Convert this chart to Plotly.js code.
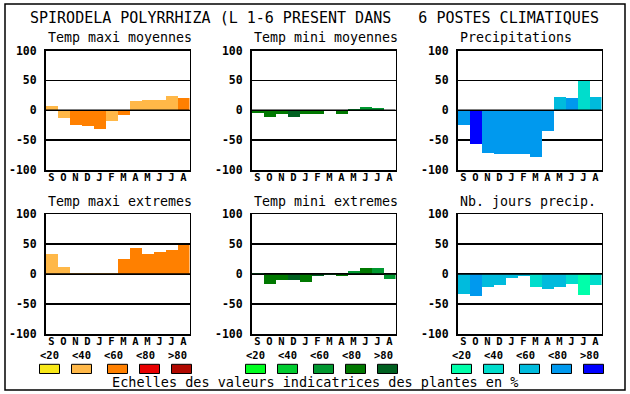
<!DOCTYPE html>
<html><head><meta charset="utf-8">
<script src="https://cdn.plot.ly/plotly-3.0.1.min.js"></script>
<style>html,body{margin:0;padding:0;background:#fff;}#chart{width:630px;height:394px;}</style>
</head><body><div id="chart"></div>
<script>
// ---------- data ----------
const months = ['S','O','N','D','J','F','M','A','M','J','J','A'];
const yTickVals = [-100, -50, 0, 50, 100];
const yTickText = ['-100', '-50', '0', '50', '100'];
const classLabels = ['<20', '<40', '<60', '<80', '>80'];
const mainTitle = 'SPIRODELA POLYRRHIZA (L 1-6 PRESENT DANS   6 POSTES CLIMATIQUES';
const footNote = 'Echelles des valeurs indicatrices des plantes en %';
const panelTitles = ['Temp maxi moyennes', 'Temp mini moyennes', 'Precipitations',
                     'Temp maxi extremes', 'Temp mini extremes', 'Nb. jours precip.'];

const tmaxMoyValues = [7, -13, -25, -26, -31, -18, -8, 15, 17, 17, 24, 20];
const tmaxMoyClass  = [1, 1, 2, 2, 2, 1, 2, 1, 1, 1, 1, 2];
const tminMoyValues = [-5, -11, -7, -11, -6, -7, null, -6, 2, 5, 4, null];
const tminMoyClass  = [3, 3, 3, 4, 3, 3, null, 3, 2, 2, 2, null];
const precipValues  = [-24, -56, -72, -74, -73, -73, -78, -35, 22, 20, 49, 22];
const precipClass   = [3, 4, 3, 3, 3, 3, 3, 3, 2, 3, 1, 2];
const tmaxExtValues = [34, 12, 2, 2, 2, 2, 25, 44, 34, 37, 40, 49];
const tmaxExtClass  = [1, 1, 1, 1, 1, 1, 2, 2, 2, 2, 2, 2];
const tminExtValues = [2, -17, -10, -10, -13, -4, -2, -4, 5, 10, 10, -8];
const tminExtClass  = [2, 3, 3, 4, 3, 4, 2, 3, 2, 3, 2, 2];
const nbJoursValues = [-33, -37, -22, -18, -6, -4, -22, -25, -22, -16, -35, -18];
const nbJoursClass  = [2, 3, 2, 2, 2, 2, 1, 2, 2, 1, 0, 1];

// ---------- styles ----------
const orangeScale = ['#F8E818', '#FFB848', '#FF8000', '#E80000', '#B00800'];
const greenScale  = ['#00FF20', '#00CC30', '#009830', '#007800', '#006020'];
const blueScale   = ['#00FFAA', '#00DDCC', '#00BBDD', '#0099EE', '#0000FF'];

const panels = [
  {values: tmaxMoyValues, cls: tmaxMoyClass, scale: orangeScale},
  {values: tminMoyValues, cls: tminMoyClass, scale: greenScale},
  {values: precipValues,  cls: precipClass,  scale: blueScale},
  {values: tmaxExtValues, cls: tmaxExtClass, scale: orangeScale},
  {values: tminExtValues, cls: tminExtClass, scale: greenScale},
  {values: nbJoursValues, cls: nbJoursClass, scale: blueScale}
];

const W = 630, H = 394;
const px = p => p / W;
const py = p => 1 - p / H;
const colPx = [[45.5, 189.5], [251.5, 395.5], [457.5, 601.5]];
const rowPx = [[50.5, 170], [214, 334]];
const titleMidPx = [38, 201.5];
const MONO = 'DejaVu Sans Mono';
const boldFont = {family: MONO, size: 11.5, color: '#000', weight: 'bold'};
const monthFont = {family: MONO, size: 10.5, color: '#000', weight: 'bold'};

const data = [];
const layout = {
  width: W, height: H,
  margin: {l: 0, r: 0, t: 0, b: 0},
  paper_bgcolor: '#fff', plot_bgcolor: '#fff',
  showlegend: false, bargap: 0,
  annotations: [], shapes: []
};

panels.forEach((p, i) => {
  const col = i % 3, row = Math.floor(i / 3);
  const n = i === 0 ? '' : String(i + 1);
  data.push({
    type: 'bar',
    x: months.map((m, k) => k),
    y: p.values,
    width: 1,
    marker: {color: p.cls.map(c => c === null ? 'rgba(0,0,0,0)' : p.scale[c]), line: {width: 0}},
    xaxis: 'x' + n, yaxis: 'y' + n,
    hoverinfo: 'skip'
  });
  layout['xaxis' + n] = {
    domain: [px(colPx[col][0]), px(colPx[col][1])],
    anchor: 'y' + n,
    range: [-0.5, months.length - 0.5],
    tickmode: 'array',
    tickvals: months.map((m, k) => k),
    ticktext: months,
    showgrid: false, zeroline: false,
    showline: true, mirror: true, linecolor: '#000', linewidth: 1.5,
    ticks: '', ticklen: 0, tickfont: monthFont, ticklabelstandoff: -3,
    fixedrange: true
  };
  layout['yaxis' + n] = {
    domain: [py(rowPx[row][1]), py(rowPx[row][0])],
    anchor: 'x' + n,
    range: [-100, 100],
    tickmode: 'array',
    tickvals: yTickVals, ticktext: yTickText,
    showgrid: true, gridcolor: '#000', gridwidth: 1.5,
    zeroline: false,
    showline: true, mirror: true, linecolor: '#000', linewidth: 1.5,
    ticks: '', tickfont: boldFont, ticklabelstandoff: 5,
    fixedrange: true
  };
  // zero line drawn above the bars
  layout.shapes.push({
    type: 'line', xref: 'x' + n + ' domain', yref: 'y' + n,
    x0: 0, x1: 1, y0: 0, y1: 0, layer: 'above',
    line: {color: '#000', width: 1.5}
  });
  // panel title
  layout.annotations.push({
    text: panelTitles[i], xref: 'paper', yref: 'paper',
    x: px(colPx[col][0]), y: py(titleMidPx[row]),
    xanchor: 'left', yanchor: 'middle', showarrow: false,
    font: {family: MONO, size: 13.3, color: '#000'}
  });
});

// class legends under the bottom row
const swatchOffsets = [-6, 26, 62, 94, 126];
const labelOffsets = [4.2, 36, 68.3, 100.4, 131.7];
[orangeScale, greenScale, blueScale].forEach((scale, col) => {
  const left = colPx[col][0];
  scale.forEach((c, k) => {
    layout.shapes.push({
      type: 'rect', xref: 'paper', yref: 'paper',
      x0: px(left + swatchOffsets[k]), x1: px(left + swatchOffsets[k] + 20),
      y0: py(373.5), y1: py(364.3),
      fillcolor: c, line: {color: '#000', width: 1}
    });
    layout.annotations.push({
      text: classLabels[k], xref: 'paper', yref: 'paper',
      x: px(left + labelOffsets[k]), y: py(355),
      xanchor: 'center', yanchor: 'middle', showarrow: false,
      font: monthFont
    });
  });
});

// main title & footnote
layout.annotations.push({
  text: mainTitle, xref: 'paper', yref: 'paper',
  x: px(314.5), y: py(18), xanchor: 'center', yanchor: 'middle', showarrow: false,
  font: {family: MONO, size: 15, color: '#000'}
});
layout.annotations.push({
  text: footNote, xref: 'paper', yref: 'paper',
  x: px(314.5), y: py(381.5), xanchor: 'center', yanchor: 'middle', showarrow: false,
  font: {family: MONO, size: 13.5, color: '#000'}
});
// outer frame
layout.shapes.push({
  type: 'rect', xref: 'paper', yref: 'paper',
  x0: px(5), x1: px(625), y0: py(390), y1: py(4),
  line: {color: '#000', width: 1.5}, fillcolor: 'rgba(0,0,0,0)'
});

Plotly.newPlot('chart', data, layout, {displayModeBar: false, staticPlot: true});
</script>
</body></html>
